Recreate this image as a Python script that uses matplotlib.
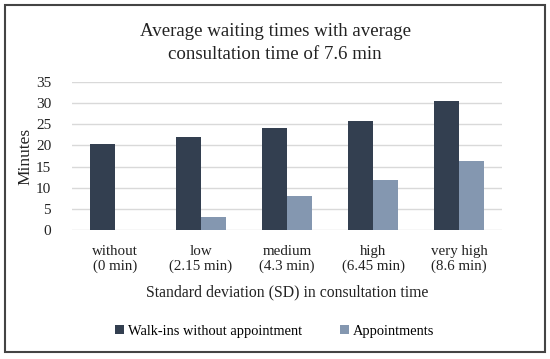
import matplotlib
matplotlib.use("Agg")
import matplotlib.pyplot as plt
import numpy as np
from matplotlib.patches import Rectangle

categories = ["without\n(0 min)", "low\n(2.15 min)", "medium\n(4.3 min)", "high\n(6.45 min)", "very high\n(8.6 min)"]
walk_ins = [20.4, 21.9, 24.2, 25.7, 30.6]
appointments = [0, 3.0, 8.1, 11.8, 16.3]
yticks = [0, 5, 10, 15, 20, 25, 30, 35]

plt.rcParams['font.family'] = ['Liberation Serif', 'DejaVu Serif']

fig = plt.figure(figsize=(5.5, 3.59), dpi=100)
ax = fig.add_axes([72/550, 1-230/359, 430/550, 148/359])

x = np.arange(len(categories))
w = 0.285
ax.bar(x - w/2, walk_ins, width=w, color="#333F50", label="Walk-ins without appointment", zorder=3)
ax.bar(x + w/2, appointments, width=w, color="#8497B0", label="Appointments", zorder=3)

ax.set_xlim(-0.5, len(categories) - 0.5)
ax.set_ylim(0, 35)
ax.set_yticks(yticks)
ax.set_xticks(x)
ax.set_xticklabels(categories, fontsize=10.8, color="#222222", linespacing=1.15)
ax.tick_params(axis='y', labelsize=11, colors="#222222", length=0, pad=15)
ax.tick_params(axis='x', length=0, pad=11)
ax.grid(axis='y', color="#D9D9D9", linewidth=1, zorder=0)
for s in ax.spines.values():
    s.set_visible(False)

ax.set_ylabel("Minutes", fontsize=12.5, color="#222222")
ax.yaxis.set_label_coords((33 - 72) / 430, 0.5)
ax.set_xlabel("Standard deviation (SD) in consultation time", fontsize=11.3, color="#222222", labelpad=8)

fig.text(0.5, 1-43/359, "Average waiting times with average\nconsultation time of 7.6 min",
         ha="center", va="center", fontsize=13.6, color="#222222", linespacing=1.45)

leg = fig.legend(loc="center", bbox_to_anchor=(0.5, 1-331/359), ncol=2, frameon=False,
                 fontsize=10.4, handlelength=0.6, handleheight=0.6, handletextpad=0.3,
                 columnspacing=2.6)

fig.patches.append(Rectangle((5/550, 1-352/359), 540/550, 347/359, transform=fig.transFigure,
                             fill=False, edgecolor="#444444", linewidth=1.5))

fig.savefig("out.png", dpi=100)
